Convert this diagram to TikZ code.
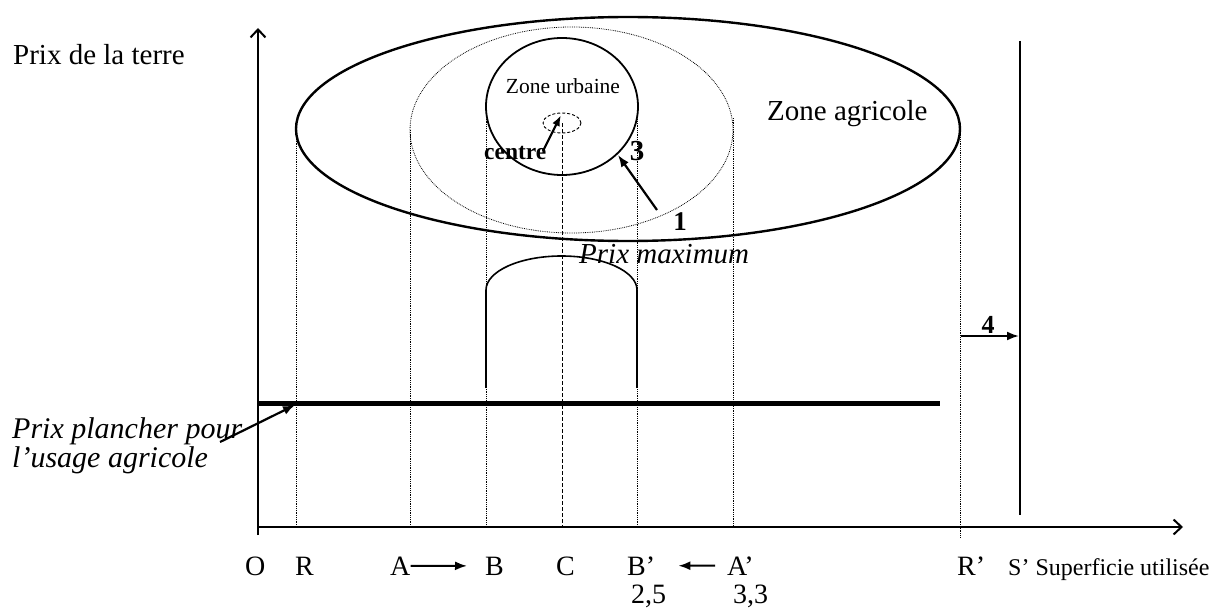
\documentclass[tikz,border=0pt]{standalone}
\usepackage{fontspec}
\setmainfont{Liberation Serif}
\usetikzlibrary{arrows.meta}
\begin{document}
\begin{tikzpicture}[x=1pt,y=-1pt,
  axis/.style={line width=2.4pt},
  guide/.style={line width=0.8pt, densely dotted},
  tip/.style={-{Latex[length=12pt,width=9pt]}, line width=2pt},
  lbl/.style={font=\fontsize{28}{30}\selectfont, anchor=base west, inner sep=0pt},
  big/.style={font=\fontsize{29}{31}\selectfont, anchor=base west, inner sep=0pt},
  num/.style={font=\bfseries\fontsize{28}{30}\selectfont, anchor=base, inner sep=0pt},
]
\useasboundingbox (0,0) rectangle (1211,610);

% axes
\coordinate (O) at (258,535);
\coordinate (ytop) at (258,28);
\coordinate (xs) at (258,527);
\coordinate (xend) at (1183,527);
\draw[axis, -{Straight Barb[length=8pt,width=15pt,line width=2pt]}] (O) -- (ytop);
\draw[axis, -{Straight Barb[length=8pt,width=15pt,line width=2pt]}] (xs) -- (xend);

% zones
\draw[line width=2.4pt] (628,129) ellipse [x radius=332pt, y radius=112pt];
\draw[line width=0.8pt, densely dotted] (571.5,130) ellipse [x radius=161.5pt, y radius=103pt];
\draw[line width=1.8pt] (562,106.5) ellipse [x radius=76pt, y radius=68.5pt];
\draw[line width=0.9pt, dash pattern=on 3pt off 2pt] (562,123) ellipse [x radius=19pt, y radius=10pt];

% guides
\draw[guide] (296,130) -- (296,527);
\draw[guide] (410,130) -- (410,527);
\draw[guide] (486,108) -- (486,527);
\draw[line width=0.9pt, dash pattern=on 4pt off 2pt] (562,123) -- (562,527);
\draw[guide] (637,112) -- (637,527);
\draw[guide] (733,118) -- (733,527);
\draw[guide] (960,130) -- (960,537);

% floor price
\draw[line width=5pt] (258,403) -- (940,403);

% arch (maximum price)
\draw[line width=2.6pt] (486,388) -- (486,290);
\draw[line width=2.6pt] (637,388) -- (637,290);
\draw[line width=1.6pt] (486,290) arc[start angle=180, end angle=0, x radius=75.5pt, y radius=34pt];

% right vertical line and arrow 4
\coordinate (s1) at (1020,41);
\coordinate (s2) at (1020,515);
\draw[axis] (s1) -- (s2);
\coordinate (r4) at (961,336);
\coordinate (s4) at (1019,336);
\draw[tip] (r4) -- (s4);
\node[num, font=\bfseries\fontsize{26}{28}\selectfont] (n4) at (988,333) {4};

% texts
\node[big] (ylab) at (13,65) {Prix de la terre};
\node[big] (zagr) at (767,121) {Zone agricole};
\node[font=\fontsize{21.5}{23}\selectfont, anchor=base, inner sep=0pt] (zurb) at (563,93) {Zone urbaine};
\node[font=\bfseries\fontsize{23.5}{25}\selectfont, anchor=base west, inner sep=0pt] (ctr) at (484,159) {centre};
\node[num, font=\bfseries\fontsize{29}{31}\selectfont] (n3) at (637,160) {3};
\node[num, font=\bfseries\fontsize{27}{29}\selectfont] (n1) at (680,230) {1};
\node[big, font=\itshape\fontsize{29}{31}\selectfont] (pmax) at (579,263) {Prix maximum};
\node[big, font=\itshape\fontsize{30}{32}\selectfont] (pp1) at (12,438) {Prix plancher pour};
\node[big, font=\itshape\fontsize{30}{32}\selectfont] (pp2) at (12,467) {l’usage agricole};

% arrows in the zones
\coordinate (ctip) at (561,115);
\coordinate (ctail) at (543,151);
\draw[tip, line width=2.2pt, -{Latex[length=11pt,width=8pt]}] (ctail) -- (ctip);
\coordinate (t3) at (618,155);
\coordinate (f1) at (657,210);
\draw[tip, line width=2.2pt] (f1) -- (t3);
\coordinate (ppt) at (295,405);
\coordinate (ppf) at (220,442);
\draw[tip, line width=2.2pt] (ppf) -- (ppt);

% x axis labels
\node[lbl] (lO) at (245,575) {O};
\node[lbl] (lR) at (295,575) {R};
\node[lbl] (lA) at (390,575) {A};
\node[lbl] (lB) at (485,575) {B};
\node[lbl] (lC) at (556,575) {C};
\node[lbl] (lBp) at (627,575) {B’};
\node[lbl] (lAp) at (727,575) {A’};
\node[lbl] (lRp) at (957,575) {R’};
\node[font=\fontsize{24}{26}\selectfont, anchor=base west, inner sep=0pt] (lS) at (1008,575) {S’ Superficie utilisée};
\node[lbl] (v25) at (631,603) {2,5};
\node[lbl] (v33) at (733,603) {3,3};
\draw[tip] (lA.east) -- ([xshift=-18pt]lB.west);
\draw[tip] ([xshift=-12pt]lAp.west) -- ([xshift=23pt]lBp.east);
\end{tikzpicture}
\end{document}
